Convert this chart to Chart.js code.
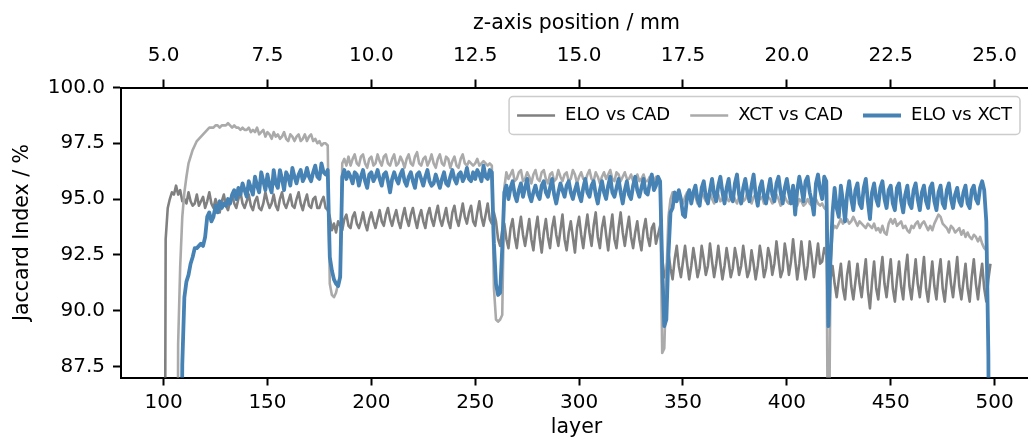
<!DOCTYPE html>
<html>
<head>
<meta charset="utf-8">
<title>Jaccard index per layer</title>
<script src="https://cdn.jsdelivr.net/npm/chart.js@4.4.1/dist/chart.umd.min.js"></script>
<style>
  html, body { margin: 0; padding: 0; background: #fff; overflow: hidden; }
  #wrap { width: 1040px; height: 438px; }
</style>
</head>
<body>
<div id="wrap"><canvas id="jaccardChart" width="1040" height="438"></canvas></div>
<script>
// one value per layer, starting at firstLayer
const firstLayer = 100;
const layerTicks = [100, 150, 200, 250, 300, 350, 400, 450, 500];
const zTicks = [5.0, 7.5, 10.0, 12.5, 15.0, 17.5, 20.0, 22.5, 25.0];
const mmPerLayer = 0.05;

const eloVsCad = [
  60, 93.2, 94.6, 95.0, 95.3, 95.2, 95.6, 95.2, 95.4, 94.9,
  95.0, 94.8, 95.3, 94.9, 94.7, 94.8, 95.2, 94.7, 94.9, 95.1,
  94.6, 94.9, 95.3, 94.8, 94.6, 95.0, 94.7, 94.4, 94.9, 95.2,
  94.7, 94.5, 94.9, 95.2, 94.8, 94.6, 95.0, 95.3, 94.8, 94.6,
  94.9, 95.2, 94.7, 94.5, 94.9, 95.1, 94.6, 94.5, 94.8, 95.3,
  94.9, 94.6, 94.8, 95.2, 94.7, 94.5, 95.0, 95.3, 94.8, 94.6,
  94.9, 95.2, 94.7, 94.6, 95.0, 95.3, 94.8, 94.5, 94.9, 95.2,
  94.7, 94.6, 95.0, 95.1, 94.6, 94.6, 94.9, 95.1, 94.6, 94.5,
  94.2, 93.6, 93.9, 93.5, 94.0, 93.8, 93.6, 94.1, 94.3, 93.8,
  93.7, 94.2, 94.4, 93.9, 93.7, 94.0, 94.4, 93.9, 93.6, 94.1,
  94.4, 94.0, 93.7, 94.1, 94.5, 94.0, 93.8, 94.3, 94.6, 94.1,
  93.8, 94.2, 94.5, 94.0, 93.7, 94.2, 94.6, 94.1, 93.8, 94.3,
  94.6, 94.1, 93.7, 94.2, 94.5, 94.0, 93.7, 94.3, 94.6, 94.1,
  93.8, 94.3, 94.7, 94.1, 93.8, 94.2, 94.6, 94.0, 93.7, 94.4,
  94.7, 94.1, 93.8, 94.3, 94.8, 94.2, 93.9, 94.4, 94.7, 94.0,
  93.8, 94.4, 94.9, 94.2, 93.8, 94.3, 94.8, 94.1, 93.9, 94.4,
  94.0, 93.2, 92.9, 93.6, 93.9, 93.2, 92.8, 93.7, 94.1, 93.3,
  92.8, 93.6, 94.2, 93.4, 92.9, 93.5, 94.1, 93.2, 92.7, 93.6,
  94.2, 93.3, 92.6, 93.5, 94.1, 93.3, 92.8, 93.7, 94.2, 93.4,
  92.9, 93.6, 94.3, 93.2, 92.7, 93.5, 94.0, 93.3, 92.6, 93.7,
  94.2, 93.4, 92.8, 93.6, 94.3, 93.5, 92.9, 93.8, 94.4, 93.3,
  92.8, 93.7, 94.2, 93.4, 92.7, 93.6, 94.3, 93.2, 92.8, 93.7,
  94.4, 93.5, 92.9, 93.6, 94.2, 93.3, 92.8, 93.5, 94.0, 93.2,
  92.7, 93.6, 94.1, 93.3, 92.9, 93.7, 93.9, 93.0, 93.4, 93.8,
  92.4, 91.5, 91.8, 92.6, 91.9, 91.4, 92.3, 92.9, 92.0, 91.5,
  92.2, 92.9, 92.1, 91.4, 92.0, 92.8, 92.2, 91.5, 91.9, 92.9,
  92.3, 91.6, 92.0, 93.0, 92.2, 91.5, 92.1, 92.9, 92.1, 91.4,
  92.0, 92.8, 92.2, 91.5, 91.9, 92.8, 92.3, 91.6, 92.0, 92.9,
  92.2, 91.5, 91.8, 92.7, 92.1, 91.4, 92.0, 92.9, 92.3, 91.5,
  91.9, 92.8, 92.4, 91.6, 92.1, 93.1, 92.3, 91.5, 91.8, 93.0,
  92.4, 91.6, 92.2, 93.2, 92.3, 91.4, 92.1, 93.1, 92.2, 91.4,
  92.0, 93.1, 92.4, 91.5, 92.2, 93.0, 92.1, 92.2, 92.8, 92.5,
  91.7, 91.4, 92.0, 91.2, 90.6, 91.4, 92.1, 91.0, 90.5, 91.6,
  92.2, 91.1, 90.5, 91.3, 92.1, 91.2, 90.6, 91.5, 92.3, 90.9,
  90.1, 91.3, 92.2, 91.0, 90.5, 91.6, 92.4, 91.2, 90.6, 91.5,
  92.3, 91.0, 90.4, 91.4, 92.2, 91.1, 90.5, 91.7, 92.5, 91.1,
  90.5, 91.4, 92.3, 91.2, 90.6, 91.5, 92.4, 91.0, 90.4, 91.3,
  92.2, 91.1, 90.5, 91.6, 92.3, 91.0, 90.4, 91.4, 92.2, 91.2,
  90.6, 91.5, 92.4, 91.1, 90.5, 91.3, 92.1, 91.0, 90.4, 91.5,
  92.3, 91.2, 90.5, 91.4, 92.1, 91.0, 90.4, 91.4, 92.1
];

const xctVsCad = [
  null, null, null, null, null, null, 60, 88.5, 92.0, 94.2,
  95.3, 96.0, 96.6, 96.9, 97.2, 97.4, 97.6, 97.7, 97.8, 97.9,
  98.0, 98.1, 98.2, 98.2, 98.2, 98.3, 98.3, 98.2, 98.3, 98.3,
  98.3, 98.4, 98.3, 98.2, 98.3, 98.2, 98.2, 98.1, 98.2, 98.1,
  98.1, 98.2, 98.0, 98.1, 98.0, 98.2, 97.9, 98.0, 98.1, 97.8,
  98.0, 97.9, 97.7, 98.0, 97.8, 97.9, 97.7, 97.8, 98.0, 97.7,
  97.6, 97.9, 97.8, 97.6, 97.8, 97.9, 97.6, 97.7, 97.9, 97.6,
  97.8, 97.9, 97.6, 97.7, 97.5, 97.6, 97.4, 97.5, 97.5, 97.4,
  91.2, 90.7, 90.6, 90.8, 91.2, 91.6, 96.6, 96.8, 96.5, 96.9,
  96.5, 96.8, 97.0, 96.6, 96.5, 96.9, 97.0, 96.6, 96.4, 96.8,
  96.9, 96.5, 96.6, 97.0, 96.7, 96.5, 96.9, 97.0, 96.6, 96.5,
  96.8, 97.0, 96.5, 96.6, 96.9, 96.7, 96.4, 96.8, 97.0, 96.6,
  96.5, 96.9, 97.1, 96.6, 96.5, 96.8, 96.9, 96.5, 96.7, 97.0,
  96.6, 96.4, 96.8, 97.0, 96.6, 96.5, 96.9, 96.8, 96.4, 96.7,
  96.9, 96.5, 96.4, 96.8, 97.0, 96.6, 96.5, 96.7, 96.6, 96.5,
  96.6, 96.8, 96.5, 96.6, 96.7, 96.6, 96.5, 96.6, 96.5, 91.0,
  89.6, 89.5, 89.6, 89.8, 95.5, 96.2, 95.9, 96.1, 96.3, 95.8,
  95.9, 96.2, 96.3, 95.8, 95.9, 96.2, 96.0, 95.7, 96.1, 96.3,
  95.9, 95.8, 96.2, 96.3, 95.9, 95.7, 96.1, 96.2, 95.8, 95.9,
  96.3, 96.0, 95.8, 96.1, 96.2, 95.8, 95.9, 96.3, 96.1, 95.7,
  96.0, 96.2, 95.9, 95.8, 96.1, 96.3, 95.9, 95.8, 96.2, 96.0,
  95.7, 96.0, 96.2, 95.9, 96.1, 96.3, 95.9, 95.8, 96.2, 96.1,
  95.8, 96.0, 96.2, 95.9, 95.9, 96.1, 95.8, 95.9, 96.1, 95.8,
  95.9, 96.1, 95.8, 95.8, 96.0, 95.9, 95.8, 96.0, 95.9, 95.7,
  88.1, 88.3, 91.5, 94.2, 95.0, 95.3, 95.0, 94.9, 95.2, 95.0,
  94.8, 95.1, 95.3, 95.0, 94.9, 95.2, 95.1, 94.8, 95.0, 95.3,
  95.1, 94.9, 95.2, 95.3, 95.0, 94.8, 95.1, 95.2, 94.9, 95.0,
  95.3, 95.1, 94.9, 95.0, 95.2, 95.0, 94.8, 95.1, 95.2, 94.9,
  95.0, 95.3, 95.0, 94.8, 95.1, 95.2, 94.9, 95.0, 95.1, 94.8,
  94.9, 95.1, 95.0, 94.8, 94.9, 95.2, 95.0, 94.7, 94.9, 95.1,
  94.9, 94.8, 95.0, 95.1, 94.8, 94.7, 95.0, 94.9, 94.7, 94.8,
  95.0, 94.8, 94.7, 94.9, 95.0, 94.8, 94.7, 94.8, 94.6, 94.5,
  80, 92.0, 93.6, 93.8, 93.7, 93.9, 94.1, 93.9, 94.0, 94.1,
  93.9, 94.0, 94.2, 94.0, 93.8, 94.0, 93.9, 93.8, 93.7, 93.9,
  93.8, 93.7, 93.9, 93.6, 93.7, 93.5, 93.8, 93.5, 93.4, 93.9,
  94.1, 93.9, 94.1, 93.8, 93.9, 94.0, 93.7, 93.8, 93.6, 93.5,
  93.8, 93.7, 93.9, 94.0, 93.7, 93.9, 94.0, 93.8, 93.6, 93.8,
  93.6, 93.9, 94.1, 94.3, 94.2, 93.9, 93.8, 93.7, 93.5, 93.8,
  93.7, 93.5, 93.6, 93.7, 93.4, 93.6, 93.3, 93.5, 93.3, 93.2,
  93.4, 93.3, 93.1, 93.3, 93.0, 92.8, 92.7, null, null
];

const eloVsXct = [
  null, null, null, null, null, null, null, null, 75, 87.6,
  90.6, 91.3, 91.6, 92.1, 92.4, 92.8, 92.8, 92.9, 93.0, 92.9,
  93.3, 94.2, 94.4, 94.0, 94.2, 94.7, 94.4, 94.9, 94.6, 94.8,
  94.7, 95.0, 94.8, 95.2, 95.4, 95.0, 95.5, 95.2, 95.7, 95.4,
  95.1, 95.8, 95.5, 95.2, 96.0, 95.6, 95.3, 96.2, 95.8, 95.4,
  96.1, 95.6, 95.3, 96.3, 95.7, 95.5, 96.3, 95.9, 95.4, 96.2,
  96.0, 95.6, 96.4, 96.0, 95.7, 96.1, 96.3, 95.8, 96.0, 96.4,
  96.0, 95.8, 96.2, 96.5, 96.0, 95.9, 96.6, 96.2, 96.1, 96.3,
  92.4, 91.8, 91.4, 91.2, 91.1, 91.5, 96.0, 96.3, 95.9, 96.2,
  96.0, 95.7, 96.2, 96.1, 95.6, 96.0, 96.3, 95.8, 95.5, 96.1,
  96.2, 95.8, 96.0, 96.3, 95.9, 95.6, 96.1, 96.2, 95.8, 95.3,
  95.9, 96.2, 95.9, 95.7, 96.1, 96.3, 95.8, 95.6, 96.0, 96.2,
  95.8, 95.5, 96.1, 96.2, 95.9, 95.6, 96.0, 96.3, 95.8, 95.6,
  95.7, 96.1, 95.8, 95.5, 95.9, 96.2, 95.7, 95.6, 96.0, 96.3,
  95.9, 95.7, 96.1, 96.2, 95.8, 96.0, 96.4, 95.9, 95.8, 96.2,
  95.9, 96.3, 96.1, 95.8, 96.5, 96.0, 95.9, 96.3, 96.2, 93.0,
  91.2, 90.7, 90.8, 92.8, 95.3, 95.6, 95.0, 95.5, 95.8, 95.2,
  94.9, 95.4, 95.7, 95.1, 95.5, 95.9, 95.2, 94.9, 95.3, 95.6,
  95.2, 95.0, 95.6, 95.8, 95.3, 95.1, 95.5, 95.9, 95.2, 94.8,
  95.3, 95.7, 95.4, 95.1, 95.6, 95.8, 95.3, 95.0, 95.4, 95.7,
  95.2, 94.9, 95.5, 95.9, 95.3, 95.1, 95.6, 95.8, 95.2, 94.8,
  95.4, 95.8, 95.3, 95.0, 95.6, 96.0, 95.3, 95.1, 95.5, 95.9,
  95.3, 94.8, 95.4, 95.8, 95.2, 95.0, 95.6, 96.0, 95.4, 95.1,
  95.5, 95.9, 95.3, 95.2, 95.7, 96.1, 95.4, 95.6, 96.0, 95.8,
  92.0, 89.3, 89.6, 92.5, 94.4, 94.6, 95.3, 94.9, 95.4, 95.0,
  94.3, 94.2, 95.1, 95.4, 94.8, 95.3, 95.6, 95.0, 94.7, 95.5,
  95.8, 95.1, 94.8, 95.4, 95.9, 95.2, 94.9, 95.6, 96.0, 95.3,
  94.8, 95.5, 95.9, 95.1, 94.9, 95.7, 96.1, 95.2, 94.8, 95.5,
  95.9, 95.3, 94.9, 95.6, 96.1, 95.2, 94.7, 95.5, 95.8, 95.1,
  94.8, 95.4, 95.9, 95.2, 94.9, 95.7, 96.0, 95.3, 94.8, 95.5,
  95.9, 95.3, 94.8, 95.6, 94.3, 95.4, 96.0, 95.5, 94.9, 95.8,
  96.0, 95.3, 94.9, 94.3, 95.7, 96.1, 95.4, 95.0, 96.0, 95.8,
  89.3, 92.3, 94.4, 95.5, 94.6, 94.2, 95.6, 94.9, 94.0, 95.2,
  95.8, 95.0, 94.5, 95.4, 95.7, 94.8, 94.6, 95.5, 95.9, 94.9,
  94.1, 95.3, 95.7, 95.0, 94.7, 95.5, 95.8, 95.0, 94.6, 95.4,
  95.6, 94.8, 94.5, 95.5, 95.7, 94.9, 94.4, 95.2, 95.6, 94.8,
  94.6, 95.4, 95.7, 95.0, 94.5, 95.3, 95.6, 94.9, 94.6, 95.5,
  95.7, 94.9, 94.5, 95.3, 95.6, 94.8, 94.6, 95.4, 95.7, 95.0,
  94.6, 95.2, 95.5, 94.9, 94.7, 95.3, 95.6, 94.8, 94.6, 95.4,
  95.6, 95.0, 94.8, 95.5, 95.8, 95.4, 94.0, 88.0, 70
];

const toPoints = vals => vals.map((v, i) => ({ x: firstLayer + i, y: v }));

Chart.defaults.font.family = '"DejaVu Sans", sans-serif';
Chart.defaults.color = '#000';

// legend drawn inside the plot, top right, like the original
const insideLegend = {
  id: 'insideLegend',
  afterDatasetsDraw(chart) {
    const { ctx, chartArea } = chart;
    const sets = chart.data.datasets;
    ctx.save();
    ctx.font = '18px "DejaVu Sans"';
    const pad = 8, handle = 38, gap = 10, space = 20, h = 38;
    const widths = sets.map(d => ctx.measureText(d.label).width);
    const w = pad * 2 + widths.reduce((a, b) => a + b, 0) + sets.length * (handle + gap) + (sets.length - 1) * space;
    const x0 = chartArea.right - 12 - w;
    const y0 = chartArea.top + 9;
    ctx.beginPath();
    ctx.roundRect(x0, y0, w, h, 4);
    ctx.fillStyle = 'rgba(255,255,255,0.8)';
    ctx.fill();
    ctx.strokeStyle = '#cccccc';
    ctx.lineWidth = 1.5;
    ctx.stroke();
    let x = x0 + pad;
    const yc = y0 + h / 2;
    sets.forEach((d, i) => {
      ctx.beginPath();
      ctx.moveTo(x, yc);
      ctx.lineTo(x + handle, yc);
      ctx.strokeStyle = d.borderColor;
      ctx.lineWidth = d.borderWidth;
      ctx.stroke();
      x += handle + gap;
      ctx.fillStyle = '#000';
      ctx.textBaseline = 'middle';
      ctx.textAlign = 'left';
      ctx.fillText(d.label, x, yc);
      x += widths[i] + space;
    });
    ctx.restore();
  }
};

const tickFont = { size: 20, lineHeight: 1.2 };
const titleFont = { size: 20.5, lineHeight: 1 };
const axisGrid = { drawOnChartArea: false, drawTicks: true, tickLength: 8, tickWidth: 2, tickColor: '#000', color: '#000' };
const axisBorder = { display: true, color: '#000', width: 2 };

const lineStyle = (label, vals, color, width, order) => ({
  label: label,
  data: toPoints(vals),
  borderColor: color,
  borderWidth: width,
  pointRadius: 0,
  tension: 0,
  fill: false,
  borderJoinStyle: 'round',
  order: order,
  xAxisID: 'x',
  yAxisID: 'y'
});

new Chart(document.getElementById('jaccardChart'), {
  type: 'line',
  data: {
    datasets: [
      lineStyle('ELO vs CAD', eloVsCad, '#808080', 2.6, 3),
      lineStyle('XCT vs CAD', xctVsCad, '#aaaaaa', 2.6, 2),
      lineStyle('ELO vs XCT', eloVsXct, '#4682b4', 3.8, 1)
    ]
  },
  options: {
    responsive: false,
    animation: false,
    devicePixelRatio: 1,
    layout: { padding: { left: 0, right: 8, top: 0, bottom: 0 } },
    plugins: { legend: { display: false }, tooltip: { enabled: false } },
    scales: {
      x: {
        type: 'linear', position: 'bottom', min: 79.5, max: 518,
        afterBuildTicks: s => { s.ticks = layerTicks.map(v => ({ value: v })); },
        ticks: { font: tickFont, padding: 5, maxRotation: 0, autoSkip: false, callback: v => String(v) },
        grid: axisGrid, border: axisBorder,
        title: { display: true, text: 'layer', font: titleFont, padding: { top: 0, bottom: 0 } },
        afterFit: s => { s.height = 60.5; }
      },
      xTop: {
        type: 'linear', position: 'top', min: 79.5 * mmPerLayer, max: 518 * mmPerLayer,
        afterBuildTicks: s => { s.ticks = zTicks.map(v => ({ value: v })); },
        ticks: { font: tickFont, padding: 12, maxRotation: 0, autoSkip: false, callback: v => v.toFixed(1) },
        grid: axisGrid, border: axisBorder,
        title: { display: true, text: 'z-axis position / mm', font: titleFont, padding: { top: 13, bottom: 0 } },
        afterFit: s => { s.height = 87.5; }
      },
      y: {
        type: 'linear', position: 'left', min: 87, max: 100,
        ticks: { font: tickFont, padding: 8, stepSize: 2.5, includeBounds: false, callback: v => v.toFixed(1) },
        grid: axisGrid, border: axisBorder,
        title: { display: true, text: 'Jaccard Index / %', font: titleFont, padding: { top: 12, bottom: 0 } },
        afterFit: s => { s.width = 121; }
      }
    }
  },
  plugins: [insideLegend]
});
</script>
</body>
</html>
